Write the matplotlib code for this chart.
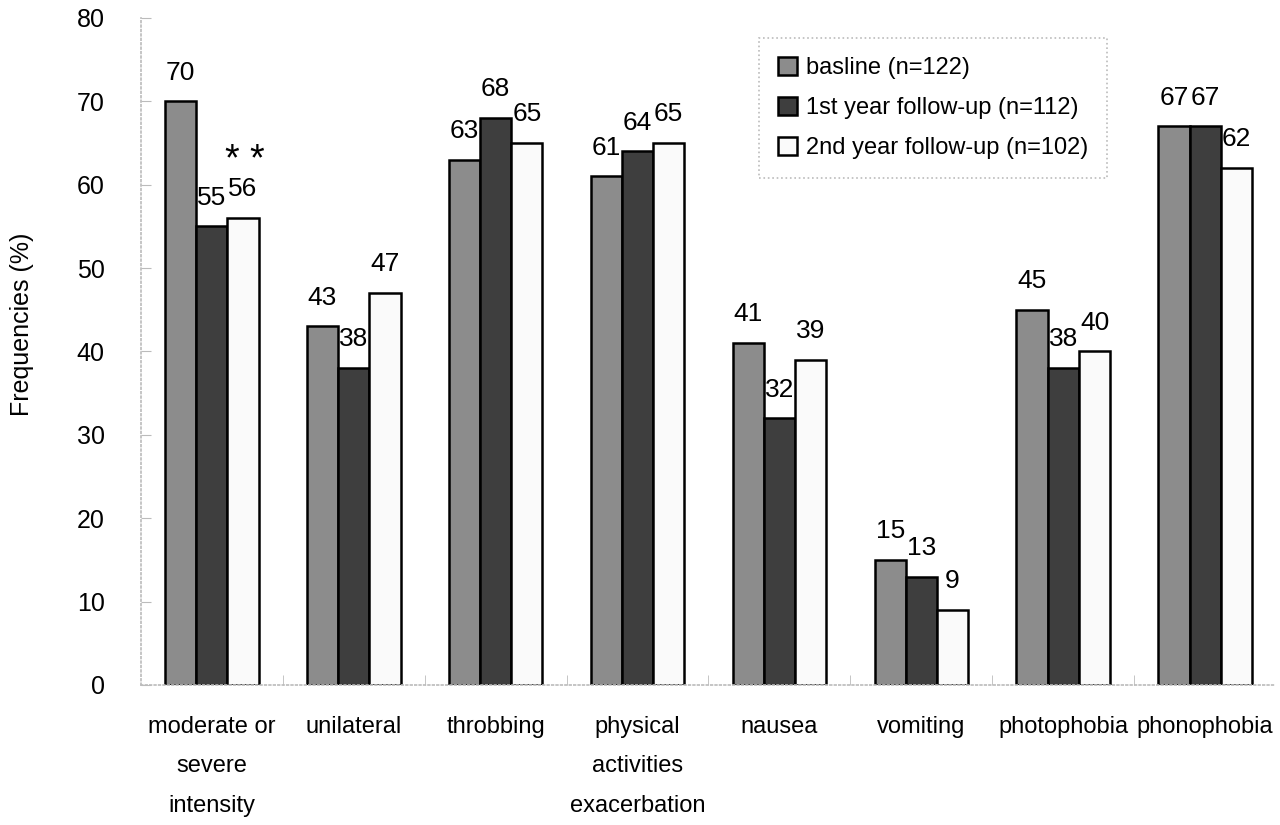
import numpy as np
import matplotlib
matplotlib.use("Agg")
import matplotlib.pyplot as plt

plt.rcParams['font.family'] = ['Liberation Sans Narrow', 'Liberation Sans', 'DejaVu Sans']

categories = ["moderate or\nsevere\nintensity", "unilateral", "throbbing",
              "physical\nactivities\nexacerbation", "nausea", "vomiting",
              "photophobia", "phonophobia"]
series_names = ["basline (n=122)", "1st year follow-up (n=112)", "2nd year follow-up (n=102)"]
baseline = [70, 43, 63, 61, 41, 15, 45, 67]
year1 = [55, 38, 68, 64, 32, 13, 38, 67]
year2 = [56, 47, 65, 65, 39, 9, 40, 62]
colors = ["#8c8c8c", "#3e3e3e", "#fafafa"]

fig = plt.figure(figsize=(12.8, 8.25), dpi=100)
ax = fig.add_axes([0.110, 0.1697, 0.887, 0.8085])

x = np.arange(len(categories))
w = 0.22
for k, vals in enumerate([baseline, year1, year2]):
    bars = ax.bar(x + (k - 1) * w, vals, w, color=colors[k], edgecolor="black",
                  linewidth=1.8, label=series_names[k])
    for b, v in zip(bars, vals):
        ax.annotate(str(v), (b.get_x() + b.get_width() / 2, v), xytext=(0, 12),
                    textcoords="offset points", ha="center", va="bottom", fontsize=19)

# significance marks over 2nd year, first group
ax.annotate("* *", (x[0] + w, year2[0]), xytext=(1, 28), textcoords="offset points",
            ha="center", va="bottom", fontsize=27)

ax.set_xlim(-0.5, 7.5)
ax.set_ylim(0, 80)
ax.set_yticks(np.arange(0, 81, 10))
ax.set_xticks(x)
ax.set_xticklabels(categories, linespacing=2.05, fontsize=17)
ax.set_xticks(np.arange(0.5, 7.5, 1), minor=True)
ax.tick_params(axis="x", which="major", length=0, pad=22)
ax.tick_params(axis="x", which="minor", direction="in", length=7, color="#bbbbbb")
ax.tick_params(axis="y", direction="in", length=7, color="#bbbbbb", pad=26, labelsize=18)

for s in ["top", "right"]:
    ax.spines[s].set_visible(False)
for s in ["left", "bottom"]:
    ax.spines[s].set_color("#bbbbbb")
    ax.spines[s].set_linestyle(":")
    ax.spines[s].set_linewidth(1.2)

ax.set_ylabel("Frequencies (%)", fontsize=18)
ax.yaxis.set_label_coords(-0.094, 0.54)

leg = ax.legend(loc="upper left", bbox_to_anchor=(759 / 1280, 1 - 38 / 825),
                bbox_transform=fig.transFigure, borderaxespad=0, fontsize=17,
                handlelength=0.8, handleheight=0.8, handletextpad=0.4,
                labelspacing=0.75, borderpad=0.8, fancybox=False)
leg.get_frame().set_edgecolor("#aaaaaa")
leg.get_frame().set_linestyle(":")
leg.get_frame().set_linewidth(1.2)

fig.savefig("out.png", dpi=100)
